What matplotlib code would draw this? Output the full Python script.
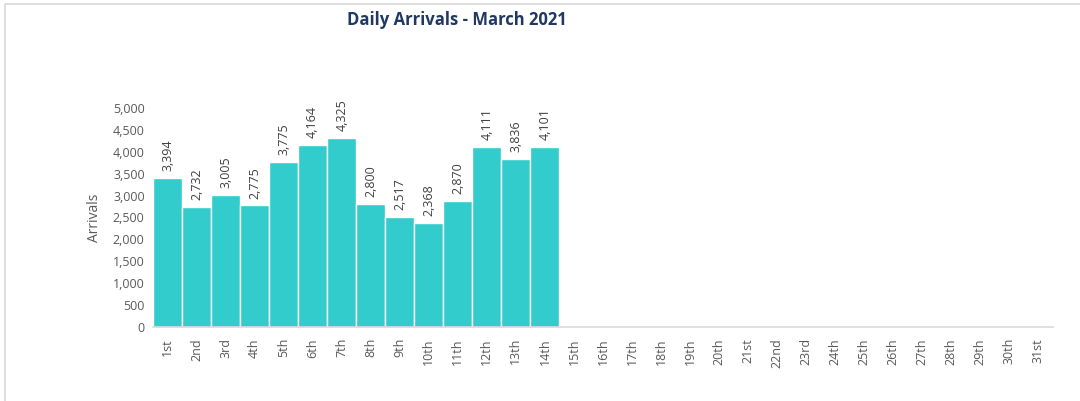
import matplotlib
matplotlib.use("Agg")
import matplotlib.pyplot as plt
from matplotlib.patches import Rectangle

# Datos
days = ["1st", "2nd", "3rd", "4th", "5th", "6th", "7th", "8th", "9th", "10th",
        "11th", "12th", "13th", "14th", "15th", "16th", "17th", "18th", "19th", "20th",
        "21st", "22nd", "23rd", "24th", "25th", "26th", "27th", "28th", "29th", "30th", "31st"]
arrivals = [3394, 2732, 3005, 2775, 3775, 4164, 4325, 2800, 2517, 2368,
            2870, 4111, 3836, 4101]

plt.rcParams["font.family"] = ["Open Sans", "DejaVu Sans"]
gray = "#595959"

fig = plt.figure(figsize=(10.8, 4.01), dpi=100)
ax = fig.add_axes([153 / 1080, 1 - 327 / 401, 900 / 1080, 219 / 401])

# Marco del gráfico
fig.patches.append(Rectangle((5 / 1080, -0.01), 1.2, 1 - 4 / 401 + 0.01, transform=fig.transFigure,
                             fill=False, edgecolor="#D9D9D9", linewidth=1.2))

x = list(range(len(arrivals)))
bars = ax.bar(x, arrivals, width=1.0, color="#33CCCC", edgecolor="white", linewidth=1)

for xi, v in zip(x, arrivals):
    ax.annotate(f"{v:,}", (xi, v), xytext=(0, 5), textcoords="offset points",
                rotation=90, ha="center", va="bottom", fontsize=9, color="#404040")

ax.set_xlim(-0.5, len(days) - 0.5)
ax.set_ylim(0, 5000)
ax.set_yticks(range(0, 5001, 500))
ax.set_yticklabels([f"{t:,}" for t in range(0, 5001, 500)])
ax.set_xticks(range(len(days)))
ax.set_xticklabels(days, rotation=90)
ax.tick_params(axis="both", length=0, labelsize=9, colors=gray)
ax.tick_params(axis="x", pad=8)
ax.tick_params(axis="y", pad=6)

for s in ["top", "right", "left"]:
    ax.spines[s].set_visible(False)
ax.spines["bottom"].set_color("#D9D9D9")
ax.spines["bottom"].set_linewidth(1.2)

ax.set_ylabel("Arrivals", fontsize=10, color=gray, labelpad=8)

fig.text(457 / 1080, 1 - 20 / 401, "Daily Arrivals - March 2021", ha="center", va="center",
         fontsize=12, fontweight="bold", color="#1F3864")

fig.savefig("out.png", dpi=100, facecolor="white")
